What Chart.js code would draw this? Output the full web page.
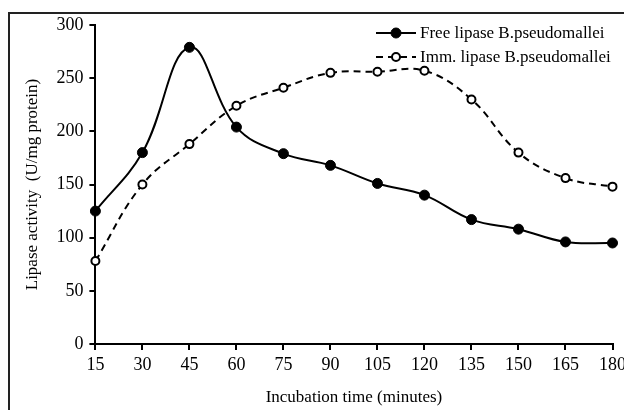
<!DOCTYPE html>
<html>
<head>
<meta charset="utf-8">
<script src="https://cdn.jsdelivr.net/npm/chart.js@4.4.1/dist/chart.umd.min.js"></script>
<style>
  html, body { margin: 0; padding: 0; background: #fff; overflow: hidden; }
  #wrap { position: relative; width: 624px; height: 410px; overflow: hidden; }
  #chartCanvas { position: absolute; left: 0; top: 0; }
  #frame { position: absolute; left: 8px; top: 12px; width: 660px; height: 440px;
           border: 2px solid #222; pointer-events: none; }
</style>
</head>
<body>
<div id="wrap">
  <canvas id="chartCanvas" width="630" height="410"></canvas>
  <div id="frame"></div>
</div>
<script>
// Chart data
var times = ['15', '30', '45', '60', '75', '90', '105', '120', '135', '150', '165', '180']
var freeLipase = [125, 180, 279, 204, 179, 168, 151, 140, 117, 108, 96, 95]
var immLipase = [78, 150, 188, 224, 241, 255, 256, 257, 230, 180, 156, 148]
var yTicks = [0, 50, 100, 150, 200, 250, 300]

var serif = "'Liberation Serif', 'Times New Roman', serif"

// legend drawn inside the plot: line sample with marker, then label
var lineLegend = {
    id: 'lineLegend',
    afterDraw: function(chart) {
        var ctx = chart.ctx
        chart.data.datasets.forEach(function(ds, i) {
            var y = 33 + i * 24
            ctx.save()
            ctx.strokeStyle = '#000'
            ctx.lineWidth = 2
            ctx.setLineDash(ds.borderDash || [])
            ctx.beginPath()
            ctx.moveTo(376, y)
            ctx.lineTo(416, y)
            ctx.stroke()
            ctx.setLineDash([])
            ctx.beginPath()
            ctx.arc(396, y, ds.pointRadius, 0, Math.PI * 2)
            ctx.fillStyle = ds.pointBackgroundColor
            ctx.fill()
            ctx.lineWidth = ds.pointBorderWidth
            ctx.stroke()
            ctx.fillStyle = '#000'
            ctx.font = '17px ' + serif
            ctx.textBaseline = 'middle'
            ctx.fillText(ds.label, 420, y + 1)
            ctx.restore()
        })
    }
}

var ctx = document.getElementById('chartCanvas').getContext('2d')
var myChart = new Chart(ctx, {
    type: 'line',
    data: {
        labels: times,
        datasets: [{
            label: 'Free lipase B.pseudomallei',
            data: freeLipase,
            borderColor: '#000',
            borderWidth: 2,
            tension: 0.4,
            pointRadius: 5,
            pointBackgroundColor: '#000',
            pointBorderColor: '#000',
            pointBorderWidth: 1
        }, {
            label: 'Imm. lipase B.pseudomallei',
            data: immLipase,
            borderColor: '#000',
            borderWidth: 2,
            borderDash: [7, 5],
            tension: 0.4,
            pointRadius: 4,
            pointBackgroundColor: '#fff',
            pointBorderColor: '#000',
            pointBorderWidth: 2
        }]
    },
    options: {
        responsive: false,
        animation: false,
        layout: { padding: { left: 22, right: 4, top: 25, bottom: 2 } },
        plugins: {
            legend: { display: false },
            tooltip: { enabled: false }
        },
        scales: {
            x: {
                offset: false,
                border: { color: '#000', width: 2 },
                grid: { drawOnChartArea: false, drawTicks: true, tickLength: 6, color: '#000', lineWidth: 2 },
                ticks: { color: '#000', font: { family: serif, size: 18 }, maxRotation: 0, autoSkip: false, padding: 4 },
                title: { display: true, text: 'Incubation time (minutes)', color: '#000',
                         font: { family: serif, size: 17 }, padding: { top: 8, bottom: 0 } }
            },
            y: {
                min: 0,
                max: 300,
                afterBuildTicks: function(axis) {
                    axis.ticks = yTicks.map(function(v) { return { value: v } })
                },
                border: { color: '#000', width: 2 },
                grid: { drawOnChartArea: false, drawTicks: true, tickLength: 6, color: '#000', lineWidth: 2 },
                ticks: { color: '#000', font: { family: serif, size: 18 }, padding: 6 },
                title: { display: true, text: 'Lipase activity  (U/mg protein)', color: '#000',
                         font: { family: serif, size: 17 }, padding: { top: 0, bottom: 8 } }
            }
        }
    },
    plugins: [lineLegend]
})
</script>
</body>
</html>
